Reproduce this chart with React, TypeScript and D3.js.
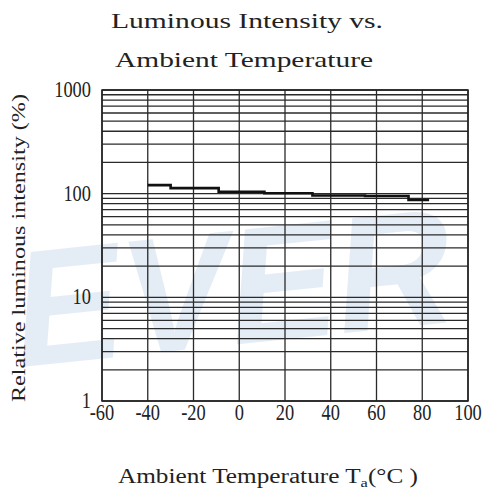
import * as d3 from "d3";

const W = 483;
const H = 493;
const LEFT = 102;
const RIGHT = 468;
const TOP = 90;
const BOTTOM = 401;

// temperature ticks (°C) and decade labels
const TEMP_TICKS = [-60, -40, -20, 0, 20, 40, 60, 80, 100];
const DECADES = [1, 10, 100, 1000];

// stepped curve: [temperature, relative intensity %]
const TEMPS = [-40, -30, -9, 11, 32, 55, 74, 83];
const INTENSITY = [121, 113, 104.5, 101, 96, 95, 87, 87];

const SERIF = "'Liberation Serif', 'DejaVu Serif', serif";

export default function App() {
  const x = d3.scaleLinear().domain([-60, 100]).range([LEFT, RIGHT]);
  const y = d3.scaleLog().domain([1, 1000]).range([BOTTOM, TOP]);
  const gridY = y.ticks();

  const pts = TEMPS.map((t, i) => [t, INTENSITY[i]] as [number, number]);
  const line = d3
    .line<[number, number]>()
    .x((d) => x(d[0]))
    .y((d) => y(d[1]))
    .curve(d3.curveStepAfter);

  return (
    <svg
      width={W}
      height={H}
      style={{ position: "absolute", left: 0, top: 0, background: "#fff" }}
    >
      {/* watermark */}
      <text
        x={0}
        y={0}
        transform="translate(12,368) rotate(-6) skewX(-10)"
        fontFamily="'Liberation Sans', sans-serif"
        fontWeight="bold"
        fontSize={165}
        fill="#e4edf5"
        textLength={440}
        lengthAdjust="spacingAndGlyphs"
      >
        EVER
      </text>

      {/* title */}
      <text x={247} y={28} textAnchor="middle" fontFamily={SERIF} fontSize={22}
        textLength={272} lengthAdjust="spacingAndGlyphs" fill="#222">
        Luminous Intensity vs.
      </text>
      <text x={244} y={67} textAnchor="middle" fontFamily={SERIF} fontSize={22}
        textLength={258} lengthAdjust="spacingAndGlyphs" fill="#222">
        Ambient Temperature
      </text>

      {/* horizontal log grid */}
      {gridY.map((v) => (
        <line key={"h" + v} x1={LEFT} x2={RIGHT} y1={y(v)} y2={y(v)}
          stroke="#2a2a2a" strokeWidth={1.3} />
      ))}
      {/* vertical grid */}
      {TEMP_TICKS.map((t) => (
        <line key={"v" + t} x1={x(t)} x2={x(t)} y1={TOP} y2={BOTTOM}
          stroke="#2a2a2a" strokeWidth={1.3} />
      ))}
      <rect x={LEFT} y={TOP} width={RIGHT - LEFT} height={BOTTOM - TOP}
        fill="none" stroke="#222" strokeWidth={1.5} />

      {/* data */}
      <path d={line(pts) ?? ""} fill="none" stroke="#111" strokeWidth={2.6} />

      {/* y tick labels (narrow digits) */}
      {DECADES.map((d) => (
        <text key={"y" + d} transform={`translate(91,${y(d) + 7}) scale(0.8,1)`}
          textAnchor="end" fontFamily={SERIF} fontSize={23} fill="#222">
          {d}
        </text>
      ))}
      {/* x tick labels */}
      {TEMP_TICKS.map((t) => (
        <text key={"x" + t} transform={`translate(${x(t)},420) scale(0.8,1)`}
          textAnchor="middle" fontFamily={SERIF} fontSize={23} fill="#222">
          {t}
        </text>
      ))}

      {/* axis titles */}
      <text x={118} y={483} fontFamily={SERIF} fontSize={20} fill="#222"
        textLength={300} lengthAdjust="spacingAndGlyphs">
        Ambient Temperature T<tspan fontSize={13} dy={4}>a</tspan>
        <tspan dy={-4}>(°C )</tspan>
      </text>
      <text transform="translate(25,248) rotate(-90)" textAnchor="middle"
        fontFamily={SERIF} fontSize={19} fill="#222"
        textLength={308} lengthAdjust="spacingAndGlyphs">
        Relative luminous intensity (%)
      </text>
    </svg>
  );
}
